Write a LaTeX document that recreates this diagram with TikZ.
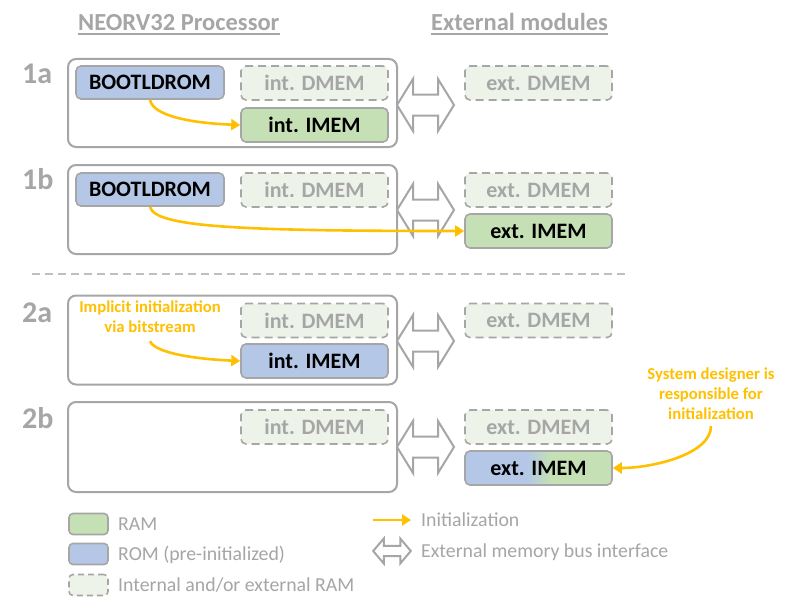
\documentclass[tikz,border=0pt]{standalone}
\usepackage{fontspec}
\setmainfont{Carlito}
\usetikzlibrary{arrows.meta}
\definecolor{gline}{HTML}{A6A6A6}
\definecolor{gtext}{HTML}{A6A6A6}
\definecolor{ramgreen}{HTML}{C5E0B4}
\definecolor{romblue}{HTML}{B4C7E7}
\definecolor{dashfill}{HTML}{EDF3E9}
\definecolor{initorange}{HTML}{FFC000}
\definecolor{sepgray}{HTML}{BFBFBF}
\pgfdeclarehorizontalshading{romram}{100bp}{color(0bp)=(romblue); color(46bp)=(romblue); color(54bp)=(ramgreen); color(100bp)=(ramgreen)}
\tikzset{
  outerbox/.style={draw=gline, line width=2pt, rounded corners=8pt, fill=white, minimum width=329pt, inner sep=0pt},
  membox/.style={draw=gline, line width=1.6pt, rounded corners=5pt, minimum width=147pt, minimum height=34pt, inner sep=0pt, font=\fontsize{22}{26}\selectfont\bfseries},
  ramstyle/.style={membox, fill=ramgreen},
  romstyle/.style={membox, fill=romblue},
  dashstyle/.style={membox, fill=dashfill, dash pattern=on 8pt off 5pt, text=gtext},
  hdr/.style={font=\fontsize{24.5}{28}\selectfont\bfseries, text=gtext, inner sep=0pt, anchor=base west},
  hdrline/.style={draw=gline, line width=1.6pt},
  rowlbl/.style={font=\fontsize{30}{34}\selectfont\bfseries, text=gtext, inner sep=0pt, anchor=base west},
  note/.style={font=\fontsize{16.7}{20}\selectfont\bfseries, text=initorange, align=center, inner sep=0pt},
  legtext/.style={font=\fontsize{19.8}{23}\selectfont, text=gtext, inner sep=0pt, anchor=base west},
  legbox/.style={draw=gline, line width=1.6pt, rounded corners=4pt, minimum width=39pt, minimum height=21pt, inner sep=0pt},
  initarrow/.style={draw=initorange, line width=2.6pt, -{Triangle[length=9pt,width=11pt]}},
  busline/.style={draw=gline, fill=white, line width=2pt, line join=miter},
  busarrow/.pic={\draw[busline] (-28.5,0) -- (-12.5,-26) -- (-12.5,-10.5) -- (12.5,-10.5) -- (12.5,-26) -- (28.5,0) -- (12.5,26) -- (12.5,10.5) -- (-12.5,10.5) -- (-12.5,26) -- cycle;},
  sepline/.style={draw=sepgray, line width=1.4pt, dash pattern=on 8pt off 5pt}
}
\begin{document}
\begin{tikzpicture}[x=1pt, y=-1pt]
\useasboundingbox[fill=white] (0,0) rectangle (800,610);

% headers
\node[hdr] (hdr1) at (78,31) {NEORV32 Processor};
\node[hdr] (hdr2) at (431,31) {External modules};
\draw[hdrline] ([yshift=-2.5pt]hdr1.south west) -- ([yshift=-2.5pt]hdr1.south east);
\draw[hdrline] ([yshift=-2.5pt]hdr2.south west) -- ([yshift=-2.5pt]hdr2.south east);

% row labels
\node[rowlbl] (l1a) at (22,83) {1a};
\node[rowlbl] (l1b) at (22,189) {1b};
\node[rowlbl] (l2a) at (22,322) {2a};
\node[rowlbl] (l2b) at (22,428) {2b};

% ---- 1a
\node[outerbox, minimum height=88pt] (p1a) at (232.5,103) {};
\node[romstyle, minimum width=148pt, minimum height=33pt] (boot1a) at (150,82.5) {BOOTLDROM};
\node[dashstyle] (idm1a) at (314.5,83) {int. DMEM};
\node[ramstyle] (iim1a) at (314.5,125) {int. IMEM};
\node[dashstyle] (edm1a) at (538.5,83) {ext. DMEM};
\pic at (425.5,105) {busarrow};
\draw[initarrow] (boot1a.south) .. controls +(3,16) and +(-50,-2) .. (iim1a.west);

% ---- 1b
\node[outerbox, minimum height=89pt] (p1b) at (232.5,209.5) {};
\node[romstyle, minimum width=148pt, minimum height=33pt] (boot1b) at (150,189.5) {BOOTLDROM};
\node[dashstyle] (idm1b) at (314.5,190) {int. DMEM};
\node[dashstyle] (edm1b) at (538.5,190) {ext. DMEM};
\node[ramstyle] (eim1b) at (538.5,231) {ext. IMEM};
\pic at (425.5,210) {busarrow};
\draw[initarrow] (boot1b.south) .. controls +(5,20) and +(-230,0) .. (eim1b.west);

% separator
\coordinate (sepL) at (32,274);
\coordinate (sepR) at (625,274);
\draw[sepline] (sepL) -- (sepR);

% ---- 2a
\node[outerbox, minimum height=89pt] (p2a) at (232.5,340) {};
\node[note] (n2a) at (150,317) {Implicit initialization\\via bitstream};
\node[dashstyle] (idm2a) at (314.5,320.5) {int. DMEM};
\node[romstyle] (iim2a) at (314.5,361) {int. IMEM};
\node[dashstyle] (edm2a) at (538.5,320.5) {ext. DMEM};
\pic at (425.5,341) {busarrow};
\draw[initarrow] ([yshift=-8pt]n2a.south) .. controls +(5,12) and +(-45,-2) .. (iim2a.west);

% ---- 2b
\node[outerbox, minimum height=90pt] (p2b) at (232.5,447) {};
\node[dashstyle] (idm2b) at (314.5,427) {int. DMEM};
\node[dashstyle] (edm2b) at (538.5,427) {ext. DMEM};
\node[membox, shade, shading=romram] (eim2b) at (538.5,468) {ext. IMEM};
\pic at (425.5,447) {busarrow};
\node[note] (n2b) at (711,394) {System designer is\\responsible for\\initialization};
\draw[initarrow] ([yshift=-6pt]n2b.south) .. controls +(0,28) and +(40,0) .. (eim2b.east);

% ---- legend
\node[legbox, fill=ramgreen] (lgram) at (88.5,524) {};
\node[legbox, fill=romblue] (lgrom) at (88.5,554) {};
\node[legbox, fill=dashfill, dash pattern=on 6pt off 4pt] (lgdash) at (88.5,585) {};
\node[legtext] (tram) at (118,530.5) {RAM};
\node[legtext] (trom) at (118,560.5) {ROM (pre-initialized)};
\node[legtext] (tdash) at (118,591.5) {Internal and/or external RAM};
\coordinate (liA) at (373,520);
\coordinate (liB) at (411,520);
\draw[initarrow] (liA) -- (liB);
\node[legtext] (tinit) at (421,526.5) {Initialization};
\pic[xscale=0.66, yscale=0.48] at (392,551) {busarrow};
\node[legtext] (tbus) at (421,557.5) {External memory bus interface};
\end{tikzpicture}
\end{document}
